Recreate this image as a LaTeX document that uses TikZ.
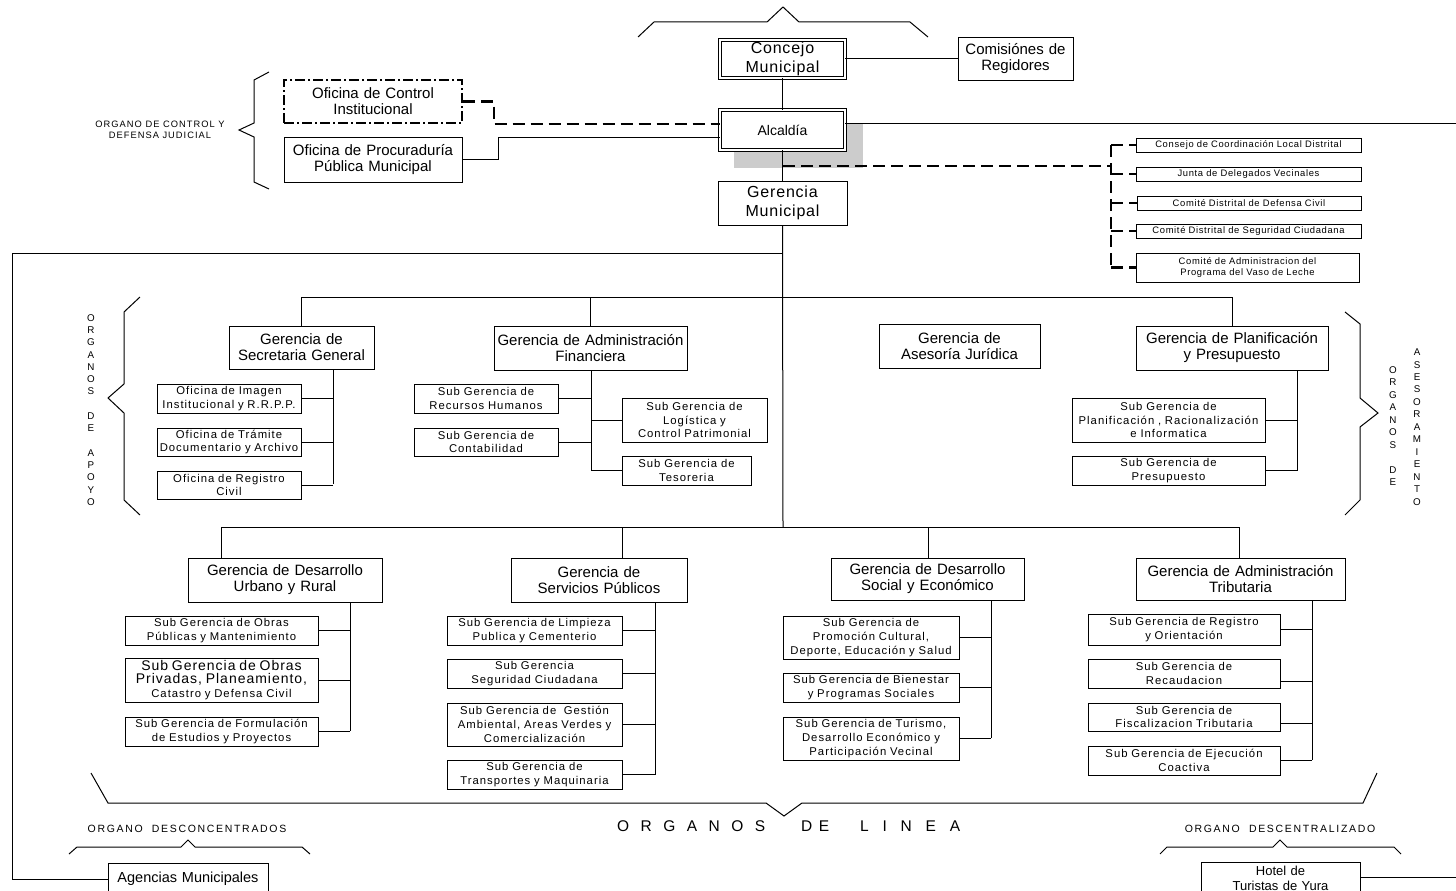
\documentclass[tikz,border=0pt]{standalone}
\usepackage{fontspec}
\setmainfont{Liberation Sans}
\newfontfamily\trkA{Liberation Sans}[LetterSpace=7]
\newfontfamily\trkB{Liberation Sans}[LetterSpace=11]
\newfontfamily\trkC{Liberation Sans}[LetterSpace=16]
\newfontfamily\trkD{Liberation Sans}[LetterSpace=5]
\newfontfamily\trkE{Liberation Sans}[LetterSpace=9]
\newcommand\bx[7][]{%
  \pgfmathsetmacro\bxW{#5-#3}%
  \pgfmathsetmacro\bxH{#6-#4}%
  \pgfmathsetmacro\bxX{(#3+#5)/2}%
  \pgfmathsetmacro\bxY{(#4+#6)/2}%
  \node[box,#1,text width=\bxW pt,minimum height=\bxH pt] (#2) at (\bxX,\bxY) {#7};%
}
\tikzset{
  box/.style={draw,line width=1pt,rectangle,fill=white,inner xsep=0pt,inner ysep=0pt,align=center},
  big/.style={font=\fontsize{15}{16}\selectfont},
  bigt/.style={font=\trkD\fontsize{16}{18.3}\selectfont},
  sub/.style={font=\trkE\fontsize{11.3}{13.8}\selectfont},
  tiny/.style={font=\trkA\fontsize{9.4}{11.5}\selectfont},
  dbl/.style={double,double distance=1.8pt,line width=0.9pt},
  dashdot/.style={line width=2.2pt,dash pattern=on 10pt off 3pt on 2pt off 3pt},
  conn/.style={line width=1pt},
  dsh/.style={line width=2.2pt,dash pattern=on 12pt off 6pt},
  brk/.style={line width=1pt},
  lbl/.style={align=center,inner sep=0pt},
}
\begin{document}
\begin{tikzpicture}[x=1pt,y=-1pt]
\useasboundingbox (0,0) rectangle (1456,891);
\clip (0,0) rectangle (1456,891);

% brackets
\draw[brk] (638,37) -- (654,22) -- (767,22) -- (783,7) -- (799,22) -- (910,22) -- (928,37);
\draw[brk] (269,72) -- (254,80) -- (254,123) -- (239,130) -- (254,137) -- (254,182) -- (269,189);
\draw[brk] (140,297) -- (124,312) -- (124,384) -- (108,398) -- (124,413) -- (124,500) -- (140,515);
\draw[brk] (1345,312) -- (1360,324) -- (1360,398) -- (1378,413) -- (1360,427) -- (1360,500) -- (1345,515);
\draw[brk] (91,773) -- (108,803) -- (766,803) -- (784,816) -- (802,803) -- (1363,803) -- (1377,773);
\draw[brk] (69,854) -- (77,847) -- (181,847) -- (188,840) -- (195,847) -- (302,847) -- (310,854);
\draw[brk] (1160,854) -- (1167,847) -- (1273,847) -- (1280,840) -- (1287,847) -- (1394,847) -- (1401,854);

% shadow of Alcaldia
\fill[black!20] (734,123) rectangle (863,168);

% top boxes
\bx[dbl,bigt]{cm}{720}{40}{845}{78}{Concejo\\Municipal}
\bx[big]{com}{958}{38}{1073}{80}{Comisiónes de\\Regidores}
\bx[dbl,font=\fontsize{14}{16}\selectfont]{alc}{720}{110}{845}{150}{Alcaldía}
\bx[bigt]{gm}{718}{181}{847}{225}{Gerencia\\Municipal}
\bx[dashdot,big]{oci}{284}{80}{462}{123}{Oficina de Control\\Institucional}
\bx[big]{opp}{284}{137}{462}{182}{Oficina de Procuraduría\\Pública Municipal}

% right committees
\bx[tiny]{r1}{1136}{138}{1361}{152}{Consejo de Coordinación Local Distrital}
\bx[tiny]{r2}{1136}{167}{1361}{181}{Junta de Delegados Vecinales}
\bx[tiny]{r3}{1137}{196}{1361}{210}{Comité Distrital de Defensa Civil}
\bx[tiny]{r4}{1136}{224}{1361}{238}{Comité Distrital de Seguridad Ciudadana}
\bx[tiny]{r5}{1136}{253}{1359}{282}{Comité de Administracion del\\Programa del Vaso de Leche}

% apoyo / asesoramiento
\bx[big]{gsg}{229}{326}{374}{369}{Gerencia de\\Secretaria General}
\bx[sub]{s1}{157}{384}{301}{413}{Oficina de Imagen\\Institucional y R.R.P.P.}
\bx[sub]{s2}{157}{428}{301}{456}{Oficina de Trámite\\Documentario y Archivo}
\bx[sub]{s3}{157}{471}{301}{499}{Oficina de Registro\\Civil}
\bx[big]{gaf}{494}{326}{687}{370}{Gerencia de Administración\\Financiera}
\bx[sub]{f1}{414}{384}{558}{413}{Sub Gerencia de\\Recursos Humanos}
\bx[sub]{f2}{414}{428}{558}{456}{Sub Gerencia de\\Contabilidad}
\bx[sub]{f3}{622}{398}{767}{442}{Sub Gerencia de\\Logística y\\Control Patrimonial}
\bx[sub]{f4}{622}{456}{751}{485}{Sub Gerencia de\\Tesoreria}
\bx[big]{gaj}{879}{324}{1040}{368}{Gerencia de\\Asesoría Jurídica}
\bx[big]{gpp}{1136}{326}{1328}{370}{Gerencia de Planificación\\y Presupuesto}
\bx[sub]{p1}{1072}{398}{1265}{442}{Sub Gerencia de\\Planificación , Racionalización\\e Informatica}
\bx[sub]{p2}{1072}{456}{1265}{485}{Sub Gerencia de\\Presupuesto}

% linea
\bx[big]{gdu}{188}{558}{382}{602}{Gerencia de Desarrollo\\Urbano y Rural}
\bx[sub]{u1}{125}{616}{318}{645}{Sub Gerencia de Obras\\Públicas y Mantenimiento}
\bx[sub]{u2}{125}{658}{318}{702}{{\trkA\fontsize{14}{15}\selectfont Sub Gerencia de Obras}\\{\trkA\fontsize{14}{15}\selectfont Privadas, Planeamiento,}\\Catastro y Defensa Civil}
\bx[sub]{u3}{125}{717}{318}{746}{Sub Gerencia de Formulación\\de Estudios y Proyectos}
\bx[big]{gsp}{511}{558}{687}{602}{Gerencia de\\Servicios Públicos}
\bx[sub]{v1}{447}{616}{622}{645}{Sub Gerencia de Limpieza\\Publica y Cementerio}
\bx[sub]{v2}{447}{659}{622}{688}{Sub Gerencia\\Seguridad Ciudadana}
\bx[sub]{v3}{447}{703}{622}{746}{Sub Gerencia de\ \ Gestión\\Ambiental, Areas Verdes y\\Comercialización}
\bx[sub]{v4}{447}{760}{622}{789}{Sub Gerencia de\\Transportes y Maquinaria}
\bx[big]{gds}{831}{558}{1024}{600}{Gerencia de Desarrollo\\Social y Económico}
\bx[sub]{d1}{783}{616}{959}{659}{Sub Gerencia de\\Promoción Cultural,\\Deporte, Educación y Salud}
\bx[sub]{d2}{783}{673}{959}{702}{Sub Gerencia de Bienestar\\y Programas Sociales}
\bx[sub]{d3}{783}{717}{959}{760}{Sub Gerencia de Turismo,\\Desarrollo Económico y\\Participación Vecinal}
\bx[big]{gat}{1136}{558}{1345}{600}{Gerencia de Administración\\Tributaria}
\bx[sub]{t1}{1088}{614}{1280}{645}{Sub Gerencia de Registro\\y Orientación}
\bx[sub]{t2}{1088}{659}{1280}{688}{Sub Gerencia de\\Recaudacion}
\bx[sub]{t3}{1088}{703}{1280}{731}{Sub Gerencia de\\Fiscalizacion Tributaria}
\bx[sub]{t4}{1088}{746}{1280}{775}{Sub Gerencia de Ejecución\\Coactiva}

% bottom
\bx[font=\fontsize{14.5}{16}\selectfont]{am}{108}{863}{268}{895}{Agencias Municipales}
\bx[font=\fontsize{13}{15}\selectfont]{ht}{1201}{862}{1360}{895}{Hotel de\\Turistas de Yura}

% coordinates
\coordinate (lj1) at (494,124);
\coordinate (lj2) at (498,137);
\coordinate (redge1) at (1460,123);
\coordinate (redge2) at (1460,877);
\coordinate (dj) at (783,166);
\coordinate (dv) at (1111,166);
\coordinate (bus1) at (783,297);
\coordinate (bus2) at (783,527);
\coordinate (lb) at (12,253);
\coordinate (sgv) at (333,484);
\coordinate (afv) at (591,471);
\coordinate (ppv) at (1297,471);
\coordinate (lv1) at (221,527);
\coordinate (lv2) at (622,527);
\coordinate (lv3) at (928,527);
\coordinate (lv4) at (1239,527);
\coordinate (uv) at (350,731);
\coordinate (vv) at (655,775);
\coordinate (dvv) at (991,738);
\coordinate (tv) at (1312,760);

% connectors top
\draw[conn] (cm) -- (alc);
\draw[conn] (cm.east) -- (com.west);
\draw[conn] (alc) -- (gm);
\draw[conn] (alc.east |- redge1) -- (redge1);
\draw[dsh] (oci.east) -| (lj1) -- (alc.west |- lj1);
\draw[conn] (opp.east) -| (lj2) -- (alc.west |- lj2);
\draw[dsh] (dj) -- (dv);
\draw[dsh] (r1.west -| dv) -- (r5.west -| dv);
\foreach \r in {r1,r2,r3,r4,r5} \draw[dsh] (\r.west -| dv) -- (\r.west);

% main trunk
\draw[conn] (gm.south) -- (bus2);
\draw[conn] (gm.south |- lb) -- (lb) |- (am.west);
\draw[conn] (gsg.north |- bus1) -- (gpp.north |- bus1);
\draw[conn] (gsg.north |- bus1) -- (gsg.north);
\draw[conn] (gaf.north |- bus1) -- (gaf.north);
\draw[conn] (gpp.north |- bus1) -- (gpp.north);

\draw[conn] (gsg.south -| sgv) -- (sgv);
\foreach \s in {s1,s2,s3} \draw[conn] (\s.east) -- (\s.east -| sgv);
\draw[conn] (gaf.south -| afv) -- (afv);
\foreach \s in {f1,f2} \draw[conn] (\s.east) -- (\s.east -| afv);
\foreach \s in {f3,f4} \draw[conn] (\s.west -| afv) -- (\s.west);
\draw[conn] (gpp.south -| ppv) -- (ppv);
\foreach \s in {p1,p2} \draw[conn] (\s.east) -- (\s.east -| ppv);

\draw[conn] (lv1) -- (lv4);
\draw[conn] (lv1) -- (lv1 |- gdu.north);
\draw[conn] (lv2) -- (lv2 |- gsp.north);
\draw[conn] (lv3) -- (lv3 |- gds.north);
\draw[conn] (lv4) -- (lv4 |- gat.north);

\draw[conn] (gdu.south -| uv) -- (uv);
\foreach \s in {u1,u2,u3} \draw[conn] (\s.east) -- (\s.east -| uv);
\draw[conn] (gsp.south -| vv) -- (vv);
\foreach \s in {v1,v2,v3,v4} \draw[conn] (\s.east) -- (\s.east -| vv);
\draw[conn] (gds.south -| dvv) -- (dvv);
\foreach \s in {d1,d2,d3} \draw[conn] (\s.east) -- (\s.east -| dvv);
\draw[conn] (gat.south -| tv) -- (tv);
\draw[conn] (t1.east) -- (t1.east -| tv);
\draw[conn] ([yshift=-7.5pt]t2.east) -- ([yshift=-7.5pt]t2.east -| tv);
\draw[conn] ([yshift=-6pt]t3.east) -- ([yshift=-6pt]t3.east -| tv);
\draw[conn] (t4.east) -- (t4.east -| tv);

\draw[conn] (ht.east |- redge2) -- (redge2);

% labels
\node[lbl,font=\trkB\fontsize{9.3}{10.5}\selectfont] (lctl) at (160,130) {ORGANO DE CONTROL Y\\DEFENSA JUDICIAL};
\node[lbl,font=\fontsize{9.8}{12.27}\selectfont] (lapo) at (91,410) {O\\R\\G\\A\\N\\O\\S\\~\\D\\E\\~\\A\\P\\O\\Y\\O};
\node[lbl,font=\fontsize{9.8}{12.45}\selectfont] (las1) at (1393,426) {O\\R\\G\\A\\N\\O\\S\\~\\D\\E};
\node[lbl,font=\fontsize{9.8}{12.45}\selectfont] (las2) at (1417,427) {A\\S\\E\\S\\O\\R\\A\\M\\I\\E\\N\\T\\O};
\node[anchor=base west,inner sep=0pt,font=\fontsize{15.5}{16}\selectfont] (llin) at (617,831) {\makebox[148pt][s]{O\hfill R\hfill G\hfill A\hfill N\hfill O\hfill S}\hspace{36pt}\makebox[28pt][s]{D\hfill E}\hspace{31pt}\makebox[100pt][s]{L\hfill I\hfill N\hfill E\hfill A}};
\node[lbl,font=\trkC\fontsize{10.5}{12}\selectfont] (ldco) at (187,829) {ORGANO\ \ DESCONCENTRADOS};
\node[lbl,font=\trkC\fontsize{10.5}{12}\selectfont] (ldce) at (1280,829) {ORGANO\ \ DESCENTRALIZADO};
\end{tikzpicture}
\end{document}
